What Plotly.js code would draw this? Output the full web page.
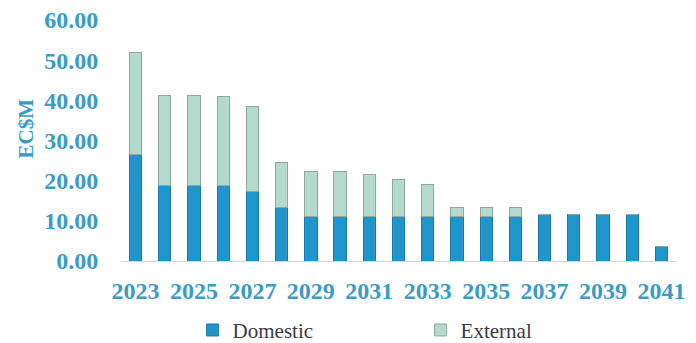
<!DOCTYPE html>
<html>
<head>
<meta charset="utf-8">
<script src="https://cdn.plot.ly/plotly-3.0.1.min.js"></script>
<style>html,body{margin:0;padding:0;background:#fff}#chart{width:696px;height:343px}</style>
</head>
<body>
<div id="chart"></div>
<script>
const years = [2023,2024,2025,2026,2027,2028,2029,2030,2031,2032,2033,2034,2035,2036,2037,2038,2039,2040,2041];
const domestic = [26.6,18.9,18.9,18.8,17.4,13.4,11.1,11.1,11.1,11.1,11.1,11.1,11.1,11.1,11.6,11.6,11.6,11.6,3.5];
const totals   = [51.8,41.1,41.1,41.0,38.4,24.6,22.2,22.2,21.6,20.2,19.1,13.3,13.3,13.3,11.6,11.6,11.6,11.6,3.5];
const external = totals.map((t,i)=>Math.max(0, +(t - domestic[i]).toFixed(2)));
const xTickVals = [2023,2025,2027,2029,2031,2033,2035,2037,2039,2041];
const yTickVals = [0,10,20,30,40,50,60];
const yTickText = yTickVals.map(v=>v.toFixed(2));
const yTitle = 'EC$M';

const labelColor = '#3b9cc3';
const serif = 'Liberation Serif, Times New Roman, serif';

const data = [
  {type:'bar', name:'Domestic', x:years, y:domestic,
   marker:{color:'#1f95cb', line:{color:'#1c7aa6', width:1}}},
  {type:'bar', name:'External', x:years, y:external,
   marker:{color:'#b3dacd', line:{color:'#8fa9a0', width:1}}}
];

const layout = {
  width:696, height:343,
  font:{family:serif},
  margin:{l:121, r:20, t:20, b:82, autoexpand:false},
  barmode:'stack', bargap:0.58,
  paper_bgcolor:'#fff', plot_bgcolor:'#fff',
  showlegend:true,
  legend:{orientation:'h', x:0.129, xanchor:'left', yref:'container', y:0.037, yanchor:'middle',
          font:{family:serif, size:21, color:'#3a3a4a'},
          entrywidth:183, entrywidthmode:'pixels', traceorder:'normal'},
  xaxis:{range:[2022.5,2041.5], tickmode:'array', tickvals:xTickVals,
         ticktext:xTickVals.map(String),
         showgrid:false, zeroline:false, showline:true, linecolor:'#d2d2de', linewidth:1,
         ticks:'outside', ticklen:8, tickcolor:'rgba(0,0,0,0)',
         tickfont:{family:serif, size:24, color:labelColor, weight:'bold'}},
  yaxis:{range:[0,60], tickmode:'array', tickvals:yTickVals, ticktext:yTickText,
         showgrid:false, zeroline:false, showline:false,
         ticks:'outside', ticklen:17, tickcolor:'rgba(0,0,0,0)',
         tickfont:{family:serif, size:24, color:labelColor, weight:'bold'}},
  annotations:[{text:yTitle, xref:'paper', yref:'paper', x:-0.171, y:0.55,
                xanchor:'center', yanchor:'middle', textangle:-90, showarrow:false,
                font:{family:serif, size:21, color:labelColor, weight:'bold'}}]
};

Plotly.newPlot('chart', data, layout, {displayModeBar:false, staticPlot:true});
</script>
</body>
</html>
